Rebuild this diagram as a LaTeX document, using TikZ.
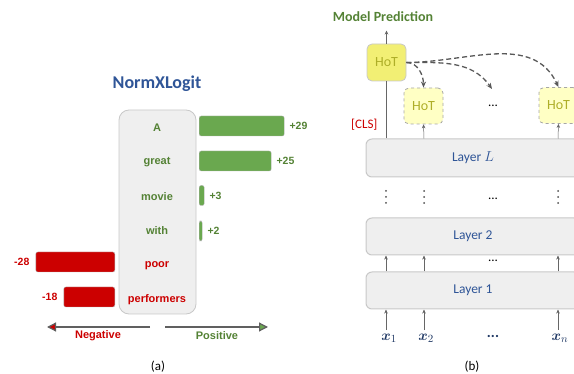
\documentclass[tikz,border=0pt]{standalone}
\usepackage{amsmath}
\usepackage{fontspec}
\setmainfont{Carlito}
\newfontfamily\arialfont{Liberation Sans}
\usetikzlibrary{arrows.meta, positioning}

\definecolor{posgreen}{HTML}{548235}
\definecolor{barpos}{HTML}{6AA84F}
\definecolor{negred}{HTML}{CC0000}
\definecolor{titleblue}{HTML}{2F5597}
\definecolor{boxgray}{HTML}{EFEFEF}
\definecolor{linegray}{HTML}{C8C8C8}
\definecolor{hotfill}{HTML}{F2EF74}
\definecolor{hotlight}{HTML}{FFFFC4}
\definecolor{hottext}{HTML}{AEAE28}
\definecolor{tokblue}{HTML}{1F3864}

\begin{document}
\begin{tikzpicture}[
    x=1pt, y=-1pt,
    tok/.style={font=\arialfont\bfseries\fontsize{11}{13}\selectfont, inner sep=1pt},
    val/.style={tok, font=\arialfont\bfseries\fontsize{10.5}{12}\selectfont},
    tokbox/.style={rectangle, draw=linegray, fill=boxgray, rounded corners=10pt, line width=0.8pt},
    posbar/.style={rectangle, draw=gray!60, fill=barpos, rounded corners=2pt, minimum height=20pt, inner sep=0pt, anchor=west},
    negbar/.style={posbar, fill=negred, anchor=east},
    axis/.style={line width=1.2pt, draw=gray!75!black},
    hot/.style={rectangle, draw=linegray, fill=hotfill, rounded corners=5pt, line width=0.8pt, minimum width=39pt, minimum height=37pt, text=hottext, font=\fontsize{14}{16}\selectfont},
    hotdash/.style={hot, fill=hotlight, dashed, draw=gray!70, minimum height=36pt},
    layer/.style={rectangle, draw=linegray, fill=boxgray, rounded corners=6pt, line width=1pt, minimum width=214pt, text=titleblue, font=\fontsize{13.5}{15}\selectfont},
    uparrow/.style={-{Stealth[length=4pt, width=3.5pt]}, draw=gray!80!black, line width=0.5pt},
    dasharrow/.style={-{Stealth[length=6pt, width=5pt]}, dash pattern=on 5pt off 3pt, draw=gray!70!black, line width=1.3pt},
    vdot/.style={font=\fontsize{13}{15}\selectfont, inner sep=0pt},
    dotfill/.style={fill=gray!60!black},
    xtok/.style={text=tokblue, font=\fontsize{15}{17}\selectfont},
]
\useasboundingbox (0,0) rectangle (574,374);
\clip (0,0) rectangle (574,374);

% ---- (a) NormXLogit ----
\node[text=titleblue, font=\bfseries\fontsize{18}{20}\selectfont] (title) at (157,84) {NormXLogit};

% token column
\node[tokbox, minimum width=77pt, minimum height=204pt] (tokens) at (157.5,212) {};
\node[tok, text=posgreen] (wA) at (157,128) {A};
\node[tok, text=posgreen] (wgreat) at (157,162) {great};
\node[tok, text=posgreen] (wmovie) at (157,197) {movie};
\node[tok, text=posgreen] (wwith) at (157,231) {with};
\node[tok, text=negred] (wpoor) at (157,266) {poor};
\node[tok, text=negred] (wperf) at (157,300) {performers};

% positive bars
\node[posbar, minimum width=85pt] (barA) at (199,126) {};
\node[posbar, minimum width=72pt] (bargreat) at (199,161) {};
\node[posbar, minimum width=5pt] (barmovie) at (199,195.5) {};
\node[posbar, minimum width=3pt] (barwith) at (199,231) {};
\node[val, text=posgreen, right=4pt of barA] (vA) {+29};
\node[val, text=posgreen, right=4pt of bargreat] (vgreat) {+25};
\node[val, text=posgreen, right=4pt of barmovie] (vmovie) {+3};
\node[val, text=posgreen, right=4pt of barwith] (vwith) {+2};

% negative bars
\node[negbar, minimum width=79pt] (barpoor) at (115,262) {};
\node[negbar, minimum width=51pt] (barperf) at (115,297) {};
\node[val, text=negred, left=5pt of barpoor] (vpoor) {-28};
\node[val, text=negred, left=5pt of barperf] (vperf) {-18};

% direction axis
\coordinate (negStart) at (150,327);
\coordinate (negEnd) at (47,327);
\coordinate (posStart) at (165,327);
\coordinate (posEnd) at (268,327);
\draw[axis, -{Triangle[length=9pt, width=9pt, fill=negred]}] (negStart) -- (negEnd);
\draw[axis, -{Triangle[length=9pt, width=9pt, fill=barpos]}] (posStart) -- (posEnd);
\node[tok, text=negred] (neg) at (98,336) {Negative};
\node[tok, text=posgreen] (pos) at (217,336) {Positive};

\node[font=\fontsize{13}{15}\selectfont] (capa) at (158,367) {(a)};

% ---- (b) HoT ----
\node[text=posgreen, font=\bfseries\fontsize{14}{16}\selectfont] (pred) at (383,17) {Model Prediction};

\node[hot] (hot0) at (386.5,62.5) {HoT};
\node[hotdash] (hot1) at (423.5,106) {HoT};
\node[hotdash] (hot2) at (558.5,105.5) {HoT};
\node[vdot] (topdots) at (493,106) {...};
\coordinate (dotsIn) at (492,89);

\node[text=negred, anchor=east, font=\fontsize{13}{15}\selectfont] (cls) at (381,125) {[CLS]};

% layers
\node[layer, minimum height=38pt] (layL) at (473,158) {Layer $L$};
\node[layer, minimum height=37pt] (lay2) at (473,236.5) {Layer 2};
\node[layer, minimum height=37pt] (lay1) at (473,290.5) {Layer 1};

% columns
\coordinate (c1) at (386,0);
\coordinate (c2) at (424,0);
\coordinate (cn) at (558,0);

% inputs
\node[xtok] (x1) at (389,338) {$\boldsymbol{x}_1$};
\node[xtok] (x2) at (426,338) {$\boldsymbol{x}_2$};
\node[xtok] (xdots) at (493,336) {\bfseries ...};
\node[xtok] (xn) at (560,338) {$\boldsymbol{x}_n$};

% vertical dots between layer 2 and L
\coordinate (vd1) at (386,197);
\coordinate (vd2) at (424,197);
\coordinate (vdn) at (558,197);
\fill[dotfill] (vd1) circle (1pt) ++(0,-6) circle (1pt) ++(0,12) circle (1pt);
\fill[dotfill] (vd2) circle (1pt) ++(0,-6) circle (1pt) ++(0,12) circle (1pt);
\fill[dotfill] (vdn) circle (1pt) ++(0,-6) circle (1pt) ++(0,12) circle (1pt);
\node[vdot] (mdots) at (493,199) {...};
\node[vdot] (ldots) at (493,261) {...};

% arrows: inputs -> layer 1
\draw[uparrow] (c1 |- x1.north) -- (c1 |- lay1.south);
\draw[uparrow] (c2 |- x1.north) -- (c2 |- lay1.south);
\draw[uparrow] (cn |- x1.north) -- (cn |- lay1.south);

% arrows: layer 1 -> layer 2
\draw[uparrow] (c1 |- lay1.north) -- (c1 |- lay2.south);
\draw[uparrow] (c2 |- lay1.north) -- (c2 |- lay2.south);
\draw[uparrow] (cn |- lay1.north) -- (cn |- lay2.south);

% layer L -> HoT
\draw[draw=gray!80!black, line width=0.5pt] (c1 |- layL.north) -- (c1 |- hot0.south);
\draw[uparrow] (c2 |- layL.north) -- (hot1.south);
\draw[uparrow] (cn |- layL.north) -- (hot2.south);

% prediction
\draw[uparrow, shorten >=5pt] (hot0.north) -- (hot0.north |- pred.south);

% HoT -> HoT
\draw[dasharrow] (hot0.east) to[out=0, in=90] (hot1.north);
\draw[dasharrow] (hot0.east) to[out=0, in=125] (dotsIn);
\draw[dasharrow] (hot0.east) to[out=0, in=115] (hot2.north);

\node[font=\fontsize{13}{15}\selectfont] (capb) at (472,367) {(b)};
\end{tikzpicture}
\end{document}
